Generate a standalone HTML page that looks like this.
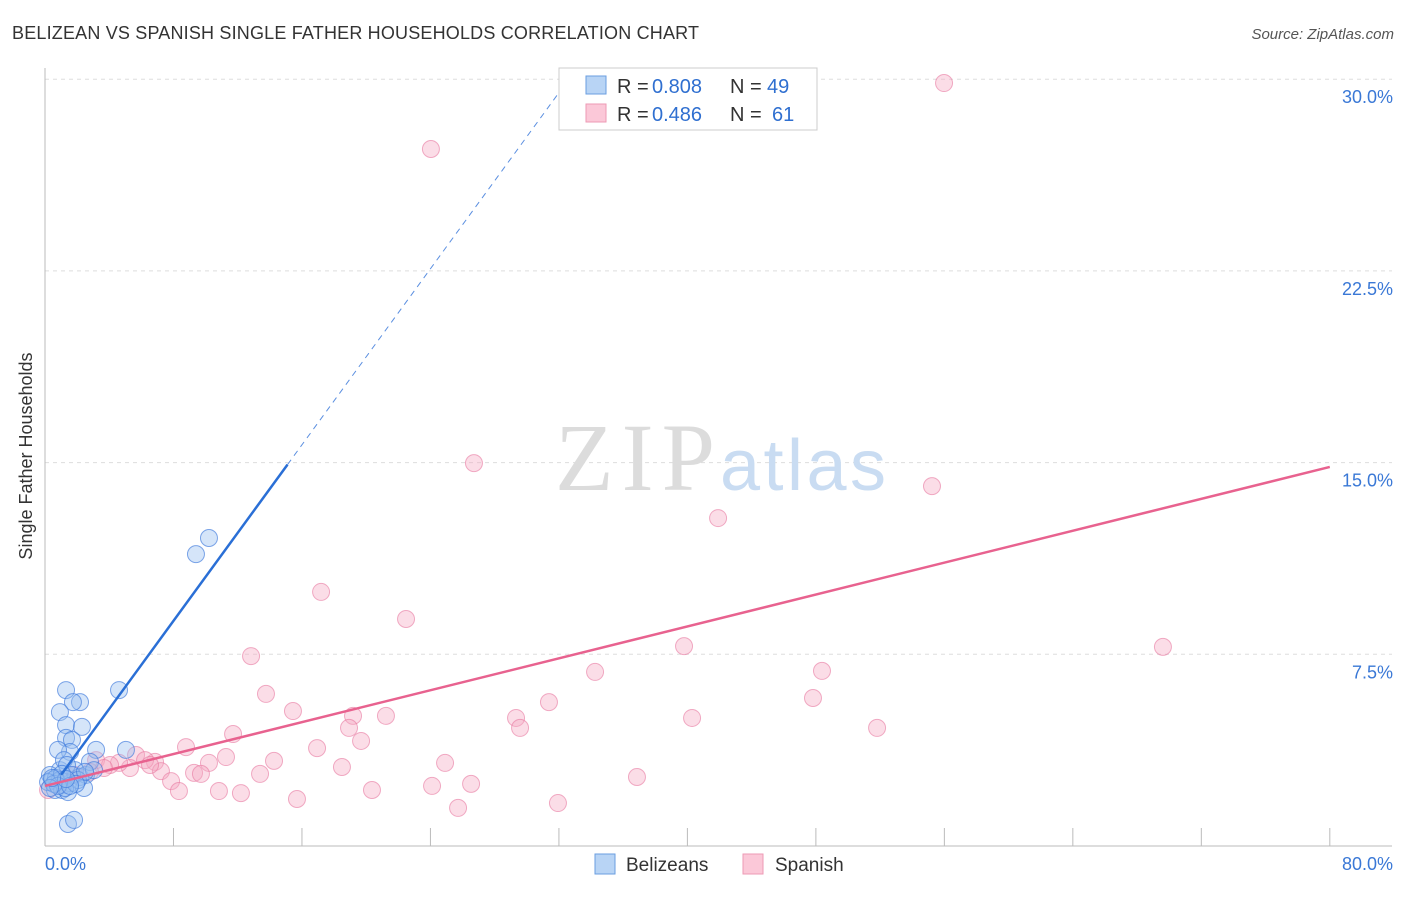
<!DOCTYPE html>
<html><head><meta charset="utf-8"><style>
body{margin:0;background:#fff;font-family:"Liberation Sans",sans-serif;}
</style></head><body>
<svg width="1406" height="892" xmlns="http://www.w3.org/2000/svg" font-family="Liberation Sans, sans-serif">
<text x="12" y="39" font-size="18" fill="#333" textLength="687">BELIZEAN VS SPANISH SINGLE FATHER HOUSEHOLDS CORRELATION CHART</text>
<text x="1394" y="39" font-size="15" fill="#555" text-anchor="end" font-style="italic">Source: ZipAtlas.com</text>
<text x="32" y="456" font-size="18" fill="#333" text-anchor="middle" transform="rotate(-90 32 456)">Single Father Households</text>
<g id="grid"></g>
<g><text x="555" y="490" font-size="96" fill="#dcdcdc" style="font-family:'Liberation Serif',serif" textLength="160">ZIP</text><text x="720" y="490" font-size="72" fill="#c9dcf2" textLength="166">atlas</text></g>
<g id="axes"></g>
<g id="pink"></g>
<g id="blue"></g>
<g id="trends"></g>
<g>
<rect x="559" y="68" width="258" height="62" fill="#fff" stroke="#ccc"/>
<rect x="586" y="76" width="20" height="18" fill="#b8d4f5" stroke="#6a9ee0"/>
<rect x="586" y="104" width="20" height="18" fill="#fbc8d8" stroke="#ee9ab4"/>
<text x="617" y="93" font-size="20" fill="#333">R =</text><text x="652" y="93" font-size="20" fill="#2f6fd0">0.808</text>
<text x="730" y="93" font-size="20" fill="#333">N =</text><text x="767" y="93" font-size="20" fill="#2f6fd0">49</text>
<text x="617" y="121" font-size="20" fill="#333">R =</text><text x="652" y="121" font-size="20" fill="#2f6fd0">0.486</text>
<text x="730" y="121" font-size="20" fill="#333">N =</text><text x="772" y="121" font-size="20" fill="#2f6fd0">61</text>
</g>
<g>
<rect x="595" y="854" width="20" height="20" fill="#b8d4f5" stroke="#6a9ee0"/>
<text x="626" y="871" font-size="19" fill="#333">Belizeans</text>
<rect x="743" y="854" width="20" height="20" fill="#fbc8d8" stroke="#ee9ab4"/>
<text x="775" y="871" font-size="19" fill="#333">Spanish</text>
</g>
</svg>
<script>
const blueX=[1.31,2.18,1.74,0.93,1.31,2.30,1.31,1.68,1.56,0.81,3.18,5.04,4.61,9.40,10.21,1.43,1.81,0.93,1.87,1.18,0.44,0.81,1.18,1.56,2.18,2.55,0.62,1.06,1.43,2.43,2.80,0.31,0.68,0.93,0.19,1.37,1.68,2.05,1.25,0.56,3.05,2.49,1.06,0.81,0.31,1.93,1.56,1.31,0.44];
const blueY=[6.10,5.63,5.63,5.24,4.73,4.66,4.23,4.15,3.68,3.76,3.76,3.76,6.10,11.42,12.05,0.86,1.02,2.97,2.97,3.36,2.58,2.50,2.39,2.46,2.70,2.78,2.19,2.19,2.11,2.27,3.29,2.78,2.66,2.58,2.50,3.17,2.78,2.58,2.27,2.43,2.97,2.90,2.82,2.35,2.27,2.43,2.35,2.62,2.66];
const pinkX=[55.98,24.03,26.71,55.23,41.91,17.19,22.48,12.83,39.79,69.61,48.38,34.25,13.76,47.82,31.38,15.44,19.18,21.23,29.33,40.29,29.58,51.81,18.93,11.71,19.68,8.78,16.94,3.18,5.67,6.85,11.27,14.26,24.91,18.49,10.21,5.29,7.22,9.28,9.71,13.39,36.86,7.85,4.61,4.05,3.67,24.10,26.53,20.36,10.83,8.34,12.20,15.69,31.94,25.72,0.19,2.80,6.23,1.87,0.93,6.54];
const pinkY=[29.85,27.27,14.98,14.08,12.83,9.94,8.88,7.43,7.82,7.79,6.85,6.81,5.95,5.79,5.63,5.28,5.09,5.09,5.01,5.01,4.62,4.62,4.62,4.38,4.11,3.87,3.83,3.36,3.56,3.29,3.48,3.33,3.25,3.09,3.25,3.05,2.93,2.86,2.82,2.82,2.70,2.54,3.25,3.17,3.05,2.35,2.43,2.19,2.15,2.15,2.07,1.84,1.68,1.49,2.19,2.90,3.36,2.78,2.39,3.17];
const yTicks=[7.5,15,22.5,30];
const yTickLabels=["7.5%","15.0%","22.5%","30.0%"];
const xTicks=[0,8,16,24,32,40,48,56,64,72,80];
const blueTrend=[1.92,0.861];
const pinkTrend=[2.35,0.156];
const NS="http://www.w3.org/2000/svg";
const sx=v=>45+v*16.06, sy=v=>846-v*25.56;
function mk(t,a,p){const e=document.createElementNS(NS,t);for(const k in a)e.setAttribute(k,a[k]);p.appendChild(e);return e;}
const grid=document.getElementById('grid'),axes=document.getElementById('axes');
yTicks.forEach((v,i)=>{
 const l=mk('line',{x1:45,x2:1392,y1:sy(v),y2:sy(v),stroke:'#ddd','stroke-dasharray':'4,4'},grid);
 
 
 const t=mk('text',{x:1393,y:sy(v)+24,'font-size':18,fill:'#3a78d6','text-anchor':'end'},axes);
 t.textContent=yTickLabels[i];
 
 
});
mk('line',{x1:45,x2:45,y1:68,y2:846,stroke:'#bbb'},axes);
mk('line',{x1:45,x2:1392,y1:846,y2:846,stroke:'#bbb'},axes);
xTicks.forEach(v=>{if(v>0){const l=mk('line',{x1:sx(v),x2:sx(v),y1:828,y2:846,stroke:'#bbb'},axes);
 
 }});
[[0,"0.0%","start",45],[80,"80.0%","end",1393]].forEach(d=>{const t=mk('text',{x:d[3],y:870,'font-size':18,fill:'#3a78d6','text-anchor':d[2]},axes);t.textContent=d[1];
 
 });
const pg=document.getElementById('pink');
pinkX.forEach((x,i)=>{const c=mk('circle',{cx:sx(x),cy:sy(pinkY[i]),r:8.5,fill:'rgba(246,170,195,0.4)',stroke:'rgba(232,120,160,0.6)','stroke-width':1},pg);
 
 });
const bg=document.getElementById('blue');
blueX.forEach((x,i)=>{const c=mk('circle',{cx:sx(x),cy:sy(blueY[i]),r:8.5,fill:'rgba(150,190,240,0.4)',stroke:'rgba(60,120,220,0.65)','stroke-width':1},bg);
 
 });
const tg=document.getElementById('trends');
const by=x=>blueTrend[0]+blueTrend[1]*x, py=x=>pinkTrend[0]+pinkTrend[1]*x;
let l=mk('line',{x1:sx(1),y1:sy(by(1)),x2:sx(15.1),y2:sy(by(15.1)),stroke:'#2a6fd6','stroke-width':2.5},tg);


l=mk('line',{x1:sx(15.1),y1:sy(by(15.1)),x2:sx(32.6),y2:sy(by(32.6)),stroke:'#5b8fe0','stroke-width':1,'stroke-dasharray':'6,5'},tg);


l=mk('line',{x1:sx(0),y1:sy(py(0)),x2:sx(80),y2:sy(py(80)),stroke:'#e8628f','stroke-width':2.5},tg);


</script>
</body></html>
